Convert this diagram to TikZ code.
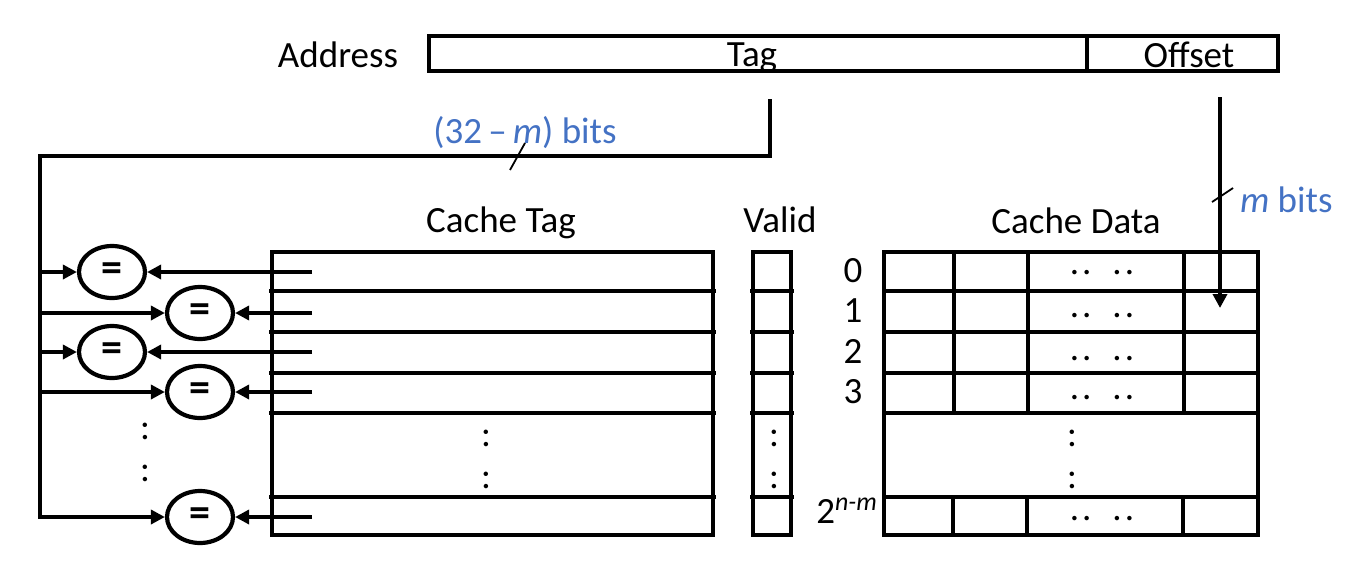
\documentclass[tikz,border=0pt]{standalone}
\usepackage{fontspec}
\setmainfont{Carlito}
\usetikzlibrary{arrows.meta,shapes.geometric}
\definecolor{annblue}{HTML}{4472C4}
\newcommand{\rowdots}{.\kern1.5pt.\kern10.5pt.\kern1.5pt.}
\begin{document}
\begin{tikzpicture}[x=0.5pt,y=-0.5pt, line width=2.1pt,
  every node/.style={font=\fontsize{18.5}{21}\selectfont, inner sep=0pt},
  lbl/.style={anchor=base},
  ann/.style={anchor=base, text=annblue},
  cmp/.style={draw, ellipse, minimum width=33pt, minimum height=26pt, font=\fontsize{21}{24}\selectfont\bfseries},
  field/.style={draw, rectangle, minimum height=17.5pt},
  arr/.style={-{Triangle[length=7pt,width=7pt]}},
  slash/.style={line width=0.9pt},
]
\useasboundingbox (0,0) rectangle (1360,562);

% address
\node[lbl] (addr) at (338,67) {Address};
\node[field, minimum width=329pt] (tagf) at (758,53.5) {};
\node[field, minimum width=95.5pt] (offf) at (1182.5,53.5) {};
\node[lbl] (tagt) at (752,66) {Tag};
\node[lbl] (offt) at (1189,67) {Offset};

% tag bus
\coordinate (tagtap) at (770,99);
\coordinate (buscorner) at (770,156);
\coordinate (busL) at (40,156);
\draw[slash] (510,170) -- (525,143);
\node[ann] (tagbits) at (525,143) {(32\,–\,\textit{m}) bits};

% offset line
\coordinate (offtap) at (1220,97);
\coordinate (offend) at (1220,308);
\draw[arr] (offtap) -- (offend);
\draw[slash] (1212,202) -- (1233,188);
\node[ann, anchor=base west] (offbits) at (1238,212) {\textit{m} bits};

% headings
\node[lbl] (ctag) at (501,232) {Cache Tag};
\node[lbl] (valid) at (780,232) {Valid};
\node[lbl] (cdata) at (1076,233) {Cache Data};

% cache tag array
\draw (272,252) rectangle (713,535);
\foreach \y in {291,332,373,413,497} \draw (269,\y) -- (716,\y);
\node[lbl] (ctd1) at (486,446) {:};
\node[lbl] (ctd2) at (486,488) {:};

% valid array
\draw (753,252) rectangle (791,535);
\foreach \y in {291,332,373,413,497} \draw (750,\y) -- (794,\y);
\node[lbl] (vd1) at (774,446) {:};
\node[lbl] (vd2) at (774,488) {:};

% data array
\draw (884,252) rectangle (1258,535);
\foreach \y in {291,332,373,413,497} \draw (884,\y) -- (1258,\y);
\foreach \x in {954,1028,1184} \draw (\x,252) -- (\x,413);
\foreach \x in {953,1027,1183} \draw (\x,497) -- (\x,535);
\foreach \y in {274,317,360,399,520} \node[lbl] at (1102,\y) {\rowdots};
\node[lbl] (dd1) at (1072,446) {:};
\node[lbl] (dd2) at (1072,488) {:};

% row numbers
\node[lbl] (r0) at (853,282) {0};
\node[lbl] (r1) at (853,322) {1};
\node[lbl] (r2) at (853,363) {2};
\node[lbl] (r3) at (853,403) {3};
\node[lbl, anchor=base east] (rn) at (880,523) {2\textsuperscript{\textit{n-m}}};

% comparators
\foreach \i/\y/\x in {1/272/112, 2/313/200, 3/352/112, 4/392/200, 5/517/200} {
  \node[cmp] (eq\i) at (\x,\y) {=};
  \coordinate (tr\i) at (312,\y);
  \draw[arr] (tr\i) -- (eq\i.east);
}
\foreach \i/\y in {1/272, 2/313, 3/352, 4/392} {
  \coordinate (bus\i) at (40,\y);
  \draw[arr] (bus\i) -- (eq\i.west);
}
\draw[arr] (tagtap) -- (buscorner) -- (busL) -- (40,517) -- (eq5.west);
\node[lbl] (ld1) at (145,439) {:};
\node[lbl] (ld2) at (145,481) {:};
\end{tikzpicture}
\end{document}
